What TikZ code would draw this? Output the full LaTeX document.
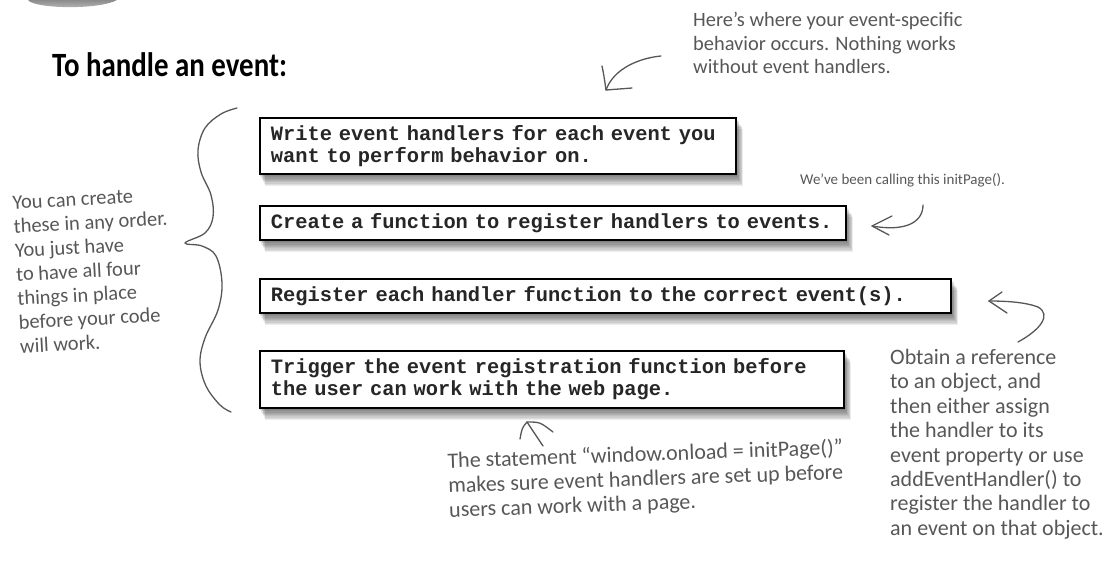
\documentclass[tikz,border=0pt]{standalone}
\usepackage{fontspec}
\setmainfont{Carlito}
\newfontfamily\handfont{Carlito}
\newfontfamily\codefont{Liberation Mono}
\usetikzlibrary{backgrounds}
\definecolor{ink}{HTML}{575757}
\definecolor{codeink}{HTML}{262626}
\newcommand\boxshadow[1]{%
  \foreach \k in {1,...,9}{%
    \fill[black,opacity=0.07]
      ([xshift=\k*0.7pt, yshift=-\k*1.3pt]#1.south west) rectangle
      ([xshift=\k*0.7pt, yshift=-\k*1.3pt]#1.north east);}}
\begin{document}
\begin{tikzpicture}[x=1pt,y=-1pt,
  codebox/.style={draw=black, line width=1.6pt, fill=white, anchor=north west,
    inner xsep=11pt, inner ysep=0pt, align=left, text=codeink,
    font=\codefont\bfseries\fontsize{20.4}{22}\selectfont},
  note/.style={font=\handfont\fontsize{20}{23.5}\selectfont, text=ink,
    align=left, inner sep=0pt},
  pen/.style={draw=ink, line width=1.3pt, line cap=round, line join=round}]

\useasboundingbox (0,0) rectangle (1106,560);

% partial grey blob at the top-left edge
\shade[top color=gray!90, bottom color=gray!50]
  (28,0) .. controls (34,9) and (100,10) .. (117,0) -- cycle;

% title
\node[anchor=west, inner sep=0pt] (title) at (52,65)
  {\scalebox{0.85}[1]{\handfont\bfseries\fontsize{34}{40}\selectfont To handle an event:}};

% code boxes
\node[codebox, text width=454pt, minimum height=56pt] (b1) at (259,117)
  {Write event handlers for each event you\\want to perform behavior on.};
\node[codebox, text width=564pt, minimum height=34pt] (b2) at (259,205)
  {Create a function to register handlers to events.};
\node[codebox, text width=669pt, minimum height=34pt] (b3) at (259,278)
  {Register each handler function to the correct event(s).};
\node[codebox, text width=562pt, minimum height=57pt] (b4) at (259,350)
  {Trigger the event registration function before\\the user can work with the web page.};

\begin{pgfonlayer}{background}
  \boxshadow{b1}\boxshadow{b2}\boxshadow{b3}\boxshadow{b4}
\end{pgfonlayer}

% notes
\node[note, anchor=north west, font=\handfont\fontsize{20.4}{23.5}\selectfont] (n1) at (693,12)
  {Here’s where your event-specific\\behavior occurs. Nothing works\\without event handlers.};
\node[note, anchor=west, font=\handfont\fontsize{15}{17}\selectfont] (n2) at (800,180)
  {We’ve been calling this initPage().};
\node[note, anchor=north west, rotate=3, font=\handfont\fontsize{20.5}{24}\selectfont] (n3) at (12,196)
  {You can create\\these in any order.\\You just have\\to have all four\\things in place\\before your code\\will work.};
\node[note, anchor=north west, font=\handfont\fontsize{22}{24.4}\selectfont] (n4) at (890,349)
  {Obtain a reference\\to an object, and\\then either assign\\the handler to its\\event property or use\\addEventHandler() to\\register the handler to\\an event on that object.};
\node[note, anchor=north west, rotate=2, font=\handfont\fontsize{22}{24.5}\selectfont] (n5) at (447,452)
  {The statement “window.onload = initPage()”\\makes sure event handlers are set up before\\users can work with a page.};

% brace
\draw[pen] plot[smooth, tension=0.6] coordinates {
  (237,108) (221,114) (205,128) (198,150) (201,172) (211,195) (213,217)
  (205,233) (185,243) (202,246) (216,256) (222,283) (218,310) (205,338)
  (200,362) (206,386) (220,405) (231,412)};

% arrow from note n1
\coordinate (a1t) at (661,56);
\coordinate (a1h) at (606,90);
\draw[pen] (a1t) .. controls (640,58) and (614,68) .. (a1h);
\draw[pen] (602,66) .. controls (604,76) .. (a1h) -- (632,88);

% arrow from note n2 to box b2
\coordinate (a2t) at (923,205);
\coordinate (a2h) at (872,226);
\draw[pen] (a2t) .. controls (923,222) and (906,232) .. (a2h);
\draw[pen] (892,216) -- (a2h) .. controls (880,230) .. (889,235);

% arrow from note n4 to box b3
\coordinate (a3t) at (1018,342);
\coordinate (a3h) at (989,301);
\draw[pen] (a3t) .. controls (1040,330) and (1052,315) .. (1038,307)
  .. controls (1025,302) and (1005,301) .. (a3h);
\draw[pen] (1002,292) -- (a3h) -- (1007,313);

% arrow from note n5 to box b4
\coordinate (a4t) at (543,446);
\coordinate (a4h) at (527,422);
\draw[pen] (a4t) -- (a4h);
\draw[pen] (520,439) .. controls (522,428) .. (a4h) .. controls (540,422) .. (553,432);
\end{tikzpicture}
\end{document}
